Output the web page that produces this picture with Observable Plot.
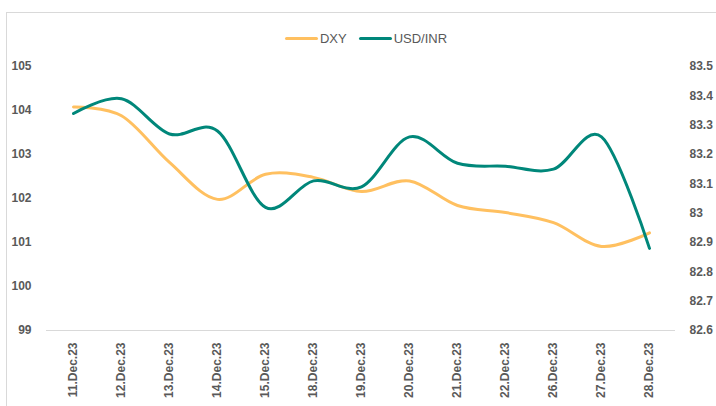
<!DOCTYPE html>
<html>
<head>
<meta charset="utf-8">
<script src="https://cdn.jsdelivr.net/npm/d3@7"></script>
<script src="https://cdn.jsdelivr.net/npm/@observablehq/plot@0.6"></script>
<style>
  html, body { margin: 0; padding: 0; background: #fff; }
  #wrap { position: relative; width: 716px; height: 406px; overflow: hidden; }
  #frame { position: absolute; left: 6px; top: 12px; width: 760px; height: 460px; border: 1px solid #d9d9d9; box-sizing: border-box; }
  #legend { position: absolute; top: 28px; left: 8px; width: 716px; text-align: center; font-family: "Liberation Sans", Arial, sans-serif; font-size: 13px; color: #595959; }
  #legend span.item { display: inline-flex; align-items: center; margin: 0 6px; }
  #legend span.sw { display: inline-block; width: 33px; height: 3px; border-radius: 2px; margin-right: 2px; }
  #chart { position: absolute; left: 0; top: 0; }
</style>
</head>
<body>
<div id="wrap">
  <div id="frame"></div>
  <div id="chart"></div>
  <div id="legend"></div>
</div>
<script>
const dates = ["11.Dec.23","12.Dec.23","13.Dec.23","14.Dec.23","15.Dec.23","18.Dec.23","19.Dec.23","20.Dec.23","21.Dec.23","22.Dec.23","26.Dec.23","27.Dec.23","28.Dec.23"];
const dxy = [104.08, 103.88, 102.82, 101.98, 102.55, 102.48, 102.16, 102.40, 101.84, 101.68, 101.45, 100.91, 101.22];
const usdinr = [83.34, 83.39, 83.27, 83.28, 83.02, 83.11, 83.09, 83.26, 83.17, 83.16, 83.15, 83.26, 82.88];
const leftTicks = [99, 100, 101, 102, 103, 104, 105];
const rightTicks = [82.6, 82.7, 82.8, 82.9, 83.0, 83.1, 83.2, 83.3, 83.4, 83.5];
const seriesNames = ["DXY", "USD/INR"];
const colors = ["#FFC060", "#00877A"];

// map right-axis domain [82.6, 83.5] onto left-axis domain [99, 105]
const rightToLeft = d3.scaleLinear().domain([82.6, 83.5]).range([99, 105]);

const rows = dates.map((d, i) => ({date: d, dxy: dxy[i], inr: usdinr[i]}));

const font = "'Liberation Sans', Arial, sans-serif";
const plot = Plot.plot({
  width: 716,
  height: 406,
  marginLeft: 46,
  marginRight: 41,
  marginTop: 66,
  marginBottom: 76,
  style: {fontFamily: font, fontSize: "12px", color: "#595959", background: "transparent"},
  x: {type: "point", domain: dates, padding: 0.5, label: null},
  y: {domain: [99, 105], label: null},
  marks: [
    Plot.ruleY([99], {stroke: "#d9d9d9", strokeWidth: 1}),
    Plot.axisY({anchor: "left", ticks: leftTicks, tickSize: 0, tickPadding: 15, fontWeight: "bold", fill: "#595959", label: null,
      tickFormat: v => String(v)}),
    Plot.axisY({anchor: "right", ticks: rightTicks.map(v => rightToLeft(v)), tickSize: 0, tickPadding: 14, textAnchor: "start", fontWeight: "bold", fill: "#595959", label: null,
      tickFormat: v => String(Math.round(rightToLeft.invert(v) * 10) / 10)}),
    Plot.axisX({tickRotate: -90, tickSize: 0, tickPadding: 12, fontWeight: "bold", fill: "#595959", label: null}),
    Plot.line(rows, {x: "date", y: "dxy", stroke: colors[0], strokeWidth: 3, curve: "cardinal", tension: 0, strokeLinecap: "round"}),
    Plot.line(rows, {x: "date", y: d => rightToLeft(d.inr), stroke: colors[1], strokeWidth: 3, curve: "cardinal", tension: 0, strokeLinecap: "round"})
  ]
});
document.getElementById("chart").appendChild(plot);

const legend = document.getElementById("legend");
seriesNames.forEach((n, i) => {
  const item = document.createElement("span");
  item.className = "item";
  const sw = document.createElement("span");
  sw.className = "sw";
  sw.style.background = colors[i];
  item.appendChild(sw);
  item.appendChild(document.createTextNode(n));
  legend.appendChild(item);
});
</script>
</body>
</html>
